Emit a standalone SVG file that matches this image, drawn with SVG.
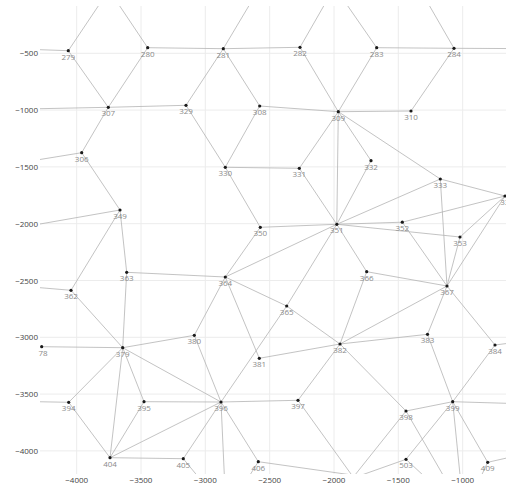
<svg xmlns="http://www.w3.org/2000/svg" width="506" height="486" viewBox="0 0 506 486">
<style>
.grid{stroke:#ececec;stroke-width:1;fill:none}
.e{stroke:#b4b4b4;stroke-width:0.8;fill:none}
.n circle{fill:#1a1a1a}
.n text{font-family:"Open Sans","Liberation Sans",sans-serif;font-size:8px;fill:#8a8a8a;text-anchor:middle}
.tk{font-family:"Open Sans","Liberation Sans",sans-serif;font-size:8px;fill:#444}
.tx{text-anchor:middle}
.ty{text-anchor:end}
</style>
<defs>
<clipPath id="plot"><rect x="40" y="6" width="466" height="468"/></clipPath>
</defs>
<rect width="506" height="486" fill="#fff"/>
<g id="grid" class="grid">
<path d="M76.7 6V474M141 6V474M205.3 6V474M269.7 6V474M334 6V474M398.3 6V474M462.7 6V474"/>
<path d="M40 53.3H506M40 110.1H506M40 166.9H506M40 223.7H506M40 280.5H506M40 337.3H506M40 394.1H506M40 450.9H506"/>
</g>
<g id="axes">
<text class="tk ty" x="38" y="56.3">−500</text>
<text class="tk ty" x="38" y="113.1">−1000</text>
<text class="tk ty" x="38" y="169.9">−1500</text>
<text class="tk ty" x="38" y="226.7">−2000</text>
<text class="tk ty" x="38" y="283.5">−2500</text>
<text class="tk ty" x="38" y="340.3">−3000</text>
<text class="tk ty" x="38" y="397.1">−3500</text>
<text class="tk ty" x="38" y="453.9">−4000</text>
<text class="tk tx" x="76.7" y="483">−4000</text>
<text class="tk tx" x="141" y="483">−3500</text>
<text class="tk tx" x="205.3" y="483">−3000</text>
<text class="tk tx" x="269.7" y="483">−2500</text>
<text class="tk tx" x="334" y="483">−2000</text>
<text class="tk tx" x="398.3" y="483">−1500</text>
<text class="tk tx" x="462.7" y="483">−1000</text>
</g>
<g id="connectors" class="e" clip-path="url(#plot)">
<path d="M68.3 50.7L108.3 107.3M147.7 47.7L108.3 107.3M147.7 47.7L223.3 48.7M223.3 48.7L300 47.3M223.3 48.7L186 105.3M223.3 48.7L259.7 106M300 47.3L338.3 111.7M376.7 47.7L454 48.3M376.7 47.7L338.3 111.7M454 48.3L411 111"/>
<path d="M108.3 107.3L186 105.3M108.3 107.3L81.7 152.7M259.7 106L338.3 111.7M338.3 111.7L411 111M186 105.3L225.3 167.3M259.7 106L225.3 167.3M299.3 168.3L338.3 111.7M338.3 111.7L371 160.7M338.3 111.7L440.3 179M338.3 111.7L336.8 224.3"/>
<path d="M225.3 167.3L299.3 168.3M225.3 167.3L260.3 227.3M299.3 168.3L336.8 224.3M371 160.7L336.8 224.3M260.3 227.3L336.8 224.3M260.3 227.3L225.3 277M336.8 224.3L225.3 277M336.8 224.3L402.3 222.2M336.8 224.3L460 237M336.8 224.3L440.3 179M336.8 224.3L286.7 306M336.8 224.3L366.7 271.7"/>
<path d="M402.3 222.2L505 196M402.3 222.2L447 286M460 237L447 286M460 237L505 196M440.3 179L505 196M440.3 179L447 286M505 196L447 286M366.7 271.7L447 286"/>
<path d="M81.7 152.7L120 210M120 210L71 290.3M120 210L126.7 272.3M126.7 272.3L225.3 277M126.7 272.3L122.7 347.7M71 290.3L122.7 347.7M225.3 277L286.7 306M225.3 277L194.3 335.3M225.3 277L259.3 358.3M286.7 306L221 402M286.7 306L340 344M366.7 271.7L340 344M447 286L340 344M447 286L427.5 334.3M447 286L495 345"/>
<path d="M41.7 346.7L122.7 347.7M122.7 347.7L194.3 335.3M122.7 347.7L221 402M122.7 347.7L68.7 402.3M122.7 347.7L144 401.7M122.7 347.7L110 457.7M68.7 402.3L110 457.7M144 401.7L110 457.7M144 401.7L221 402M110 457.7L221 402M110 457.7L183.3 458.7M183.3 458.7L221 402M258.3 461.7L221 402M194.3 335.3L221 402"/>
<path d="M259.3 358.3L340 344M221 402L298 400.3M298 400.3L340 344M340 344L406 411M340 344L427.5 334.3M427.5 334.3L452.7 401.7M495 345L452.7 401.7M406 411L452.7 401.7M452.7 401.7L406 459.3M452.7 401.7L487.7 462.3"/>
<path d="M68.3 50.7L109 -10M147.7 47.7L109 -10M223.3 48.7L258.3 -10M300 47.3L332.9 -10M376.7 47.7L336.7 -10M454 48.3L420.4 -10M68.3 50.7L0 48.3M108.3 107.3L0 109.5M81.7 152.7L0 166M120 210L0 231M71 290.3L0 284.3M68.7 402.3L0 401"/>
<path d="M454 48.3L520 48.6M495 345L520 341.8M452.7 401.7L520 403.7M487.7 462.3L520 455"/>
<path d="M221 402L225 490M183.3 458.7L209 490M258.3 461.7L240.6 490M258.3 461.7L400 481.8M298 400.3L362.5 490M406 411L343 490M406 459.3L319.4 490M406 459.3L439 490M406 411L451.7 490M452.7 401.7L461.5 490M487.7 462.3L474.6 490"/>
</g>
<g id="n279" class="n"><circle cx="68.3" cy="50.7" r="1.6"/><text x="68.3" y="59.7">279</text></g>
<g id="n280" class="n"><circle cx="147.7" cy="47.7" r="1.6"/><text x="147.7" y="56.7">280</text></g>
<g id="n281" class="n"><circle cx="223.3" cy="48.7" r="1.6"/><text x="223.3" y="57.7">281</text></g>
<g id="n282" class="n"><circle cx="300" cy="47.3" r="1.6"/><text x="300" y="56.3">282</text></g>
<g id="n283" class="n"><circle cx="376.7" cy="47.7" r="1.6"/><text x="376.7" y="56.7">283</text></g>
<g id="n284" class="n"><circle cx="454" cy="48.3" r="1.6"/><text x="454" y="57.3">284</text></g>
<g id="n307" class="n"><circle cx="108.3" cy="107.3" r="1.6"/><text x="108.3" y="116.3">307</text></g>
<g id="n329" class="n"><circle cx="186" cy="105.3" r="1.6"/><text x="186" y="114.3">329</text></g>
<g id="n308" class="n"><circle cx="259.7" cy="106" r="1.6"/><text x="259.7" y="115">308</text></g>
<g id="n309" class="n"><circle cx="338.3" cy="111.7" r="1.6"/><text x="338.3" y="120.7">309</text></g>
<g id="n310" class="n"><circle cx="411" cy="111" r="1.6"/><text x="411" y="120">310</text></g>
<g id="n306" class="n"><circle cx="81.7" cy="152.7" r="1.6"/><text x="81.7" y="161.7">306</text></g>
<g id="n330" class="n"><circle cx="225.3" cy="167.3" r="1.6"/><text x="225.3" y="176.3">330</text></g>
<g id="n331" class="n"><circle cx="299.3" cy="168.3" r="1.6"/><text x="299.3" y="177.3">331</text></g>
<g id="n332" class="n"><circle cx="371" cy="160.7" r="1.6"/><text x="371" y="169.7">332</text></g>
<g id="n333" class="n"><circle cx="440.3" cy="179" r="1.6"/><text x="440.3" y="188">333</text></g>
<g id="n334" class="n"><circle cx="505" cy="196" r="1.6"/><text x="507" y="205">334</text></g>
<g id="n349" class="n"><circle cx="120" cy="210" r="1.6"/><text x="120" y="219">349</text></g>
<g id="n350" class="n"><circle cx="260.3" cy="227.3" r="1.6"/><text x="260.3" y="236.3">350</text></g>
<g id="n351" class="n"><circle cx="336.8" cy="224.3" r="1.6"/><text x="336.8" y="233.3">351</text></g>
<g id="n352" class="n"><circle cx="402.3" cy="222.2" r="1.6"/><text x="402.3" y="231.2">352</text></g>
<g id="n353" class="n"><circle cx="460" cy="237" r="1.6"/><text x="460" y="246">353</text></g>
<g id="n363" class="n"><circle cx="126.7" cy="272.3" r="1.6"/><text x="126.7" y="281.3">363</text></g>
<g id="n364" class="n"><circle cx="225.3" cy="277" r="1.6"/><text x="225.3" y="286">364</text></g>
<g id="n366" class="n"><circle cx="366.7" cy="271.7" r="1.6"/><text x="366.7" y="280.7">366</text></g>
<g id="n367" class="n"><circle cx="447" cy="286" r="1.6"/><text x="447" y="295">367</text></g>
<g id="n362" class="n"><circle cx="71" cy="290.3" r="1.6"/><text x="71" y="299.3">362</text></g>
<g id="n365" class="n"><circle cx="286.7" cy="306" r="1.6"/><text x="286.7" y="315">365</text></g>
<g id="n78" class="n"><circle cx="41.7" cy="346.7" r="1.6"/><text x="43" y="355.7">78</text></g>
<g id="n379" class="n"><circle cx="122.7" cy="347.7" r="1.6"/><text x="122.7" y="356.7">379</text></g>
<g id="n380" class="n"><circle cx="194.3" cy="335.3" r="1.6"/><text x="194.3" y="344.3">380</text></g>
<g id="n381" class="n"><circle cx="259.3" cy="358.3" r="1.6"/><text x="259.3" y="367.3">381</text></g>
<g id="n382" class="n"><circle cx="340" cy="344" r="1.6"/><text x="340" y="353">382</text></g>
<g id="n383" class="n"><circle cx="427.5" cy="334.3" r="1.6"/><text x="427.5" y="343.3">383</text></g>
<g id="n384" class="n"><circle cx="495" cy="345" r="1.6"/><text x="495" y="354">384</text></g>
<g id="n394" class="n"><circle cx="68.7" cy="402.3" r="1.6"/><text x="68.7" y="411.3">394</text></g>
<g id="n395" class="n"><circle cx="144" cy="401.7" r="1.6"/><text x="144" y="410.7">395</text></g>
<g id="n396" class="n"><circle cx="221" cy="402" r="1.6"/><text x="221" y="411">396</text></g>
<g id="n397" class="n"><circle cx="298" cy="400.3" r="1.6"/><text x="298" y="409.3">397</text></g>
<g id="n398" class="n"><circle cx="406" cy="411" r="1.6"/><text x="406" y="420">398</text></g>
<g id="n399" class="n"><circle cx="452.7" cy="401.7" r="1.6"/><text x="452.7" y="410.7">399</text></g>
<g id="n404" class="n"><circle cx="110" cy="457.7" r="1.6"/><text x="110" y="466.7">404</text></g>
<g id="n405" class="n"><circle cx="183.3" cy="458.7" r="1.6"/><text x="183.3" y="467.7">405</text></g>
<g id="n406" class="n"><circle cx="258.3" cy="461.7" r="1.6"/><text x="258.3" y="470.7">406</text></g>
<g id="n503" class="n"><circle cx="406" cy="459.3" r="1.6"/><text x="406" y="468.3">503</text></g>
<g id="n409" class="n"><circle cx="487.7" cy="462.3" r="1.6"/><text x="487.7" y="471.3">409</text></g>
</svg>
